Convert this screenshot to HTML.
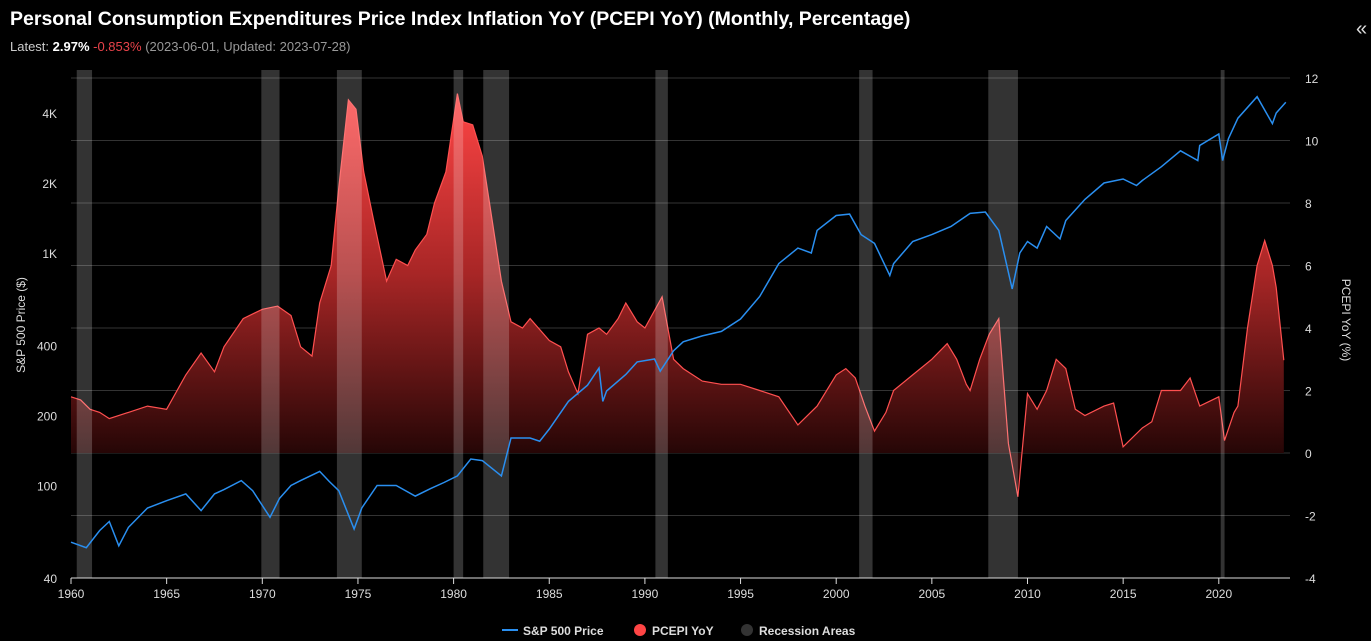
<!DOCTYPE html>
<html><head><meta charset="utf-8"><style>
body{margin:0;background:#000;width:1371px;height:641px;overflow:hidden;font-family:"Liberation Sans",sans-serif;color:#fff}
#title{position:absolute;left:10px;top:8px;font-size:19.5px;font-weight:bold}
#sub{position:absolute;left:10px;top:39px;font-size:13px;color:#ccc}
#collapse{position:absolute;left:1356px;top:18px;font-size:20px;color:#ddd}
svg{position:absolute;left:0;top:0}
</style></head><body>
<div id="title">Personal Consumption Expenditures Price Index Inflation YoY (PCEPI YoY) (Monthly, Percentage)</div>
<div id="sub">Latest: <b style="color:#fff">2.97%</b> <span style="color:#e8434a">-0.853%</span> <span style="color:#999">(2023-06-01, Updated: 2023-07-28)</span></div>
<div id="collapse">«</div>
<svg id="chart" width="1371" height="641"></svg>
<script>
const pceYears=[1960,1960.5,1961,1961.5,1962,1963,1964,1965,1966,1966.8,1967.5,1968,1969,1970,1970.8,1971.5,1972,1972.6,1973,1973.6,1974,1974.5,1974.9,1975.3,1975.8,1976.5,1977,1977.6,1978,1978.6,1979,1979.6,1980.2,1980.5,1981,1981.5,1982,1982.5,1983,1983.6,1984,1985,1985.6,1986,1986.5,1987,1987.6,1988,1988.6,1989,1989.6,1990,1990.9,1991.5,1992,1993,1994,1995,1996,1997,1998,1999,2000,2000.5,2001,2001.5,2002,2002.6,2003,2004,2005,2005.8,2006.3,2006.8,2007,2007.5,2008,2008.5,2009,2009.5,2010,2010.5,2011,2011.5,2012,2012.5,2013,2014,2014.5,2015,2016,2016.5,2017,2018,2018.5,2019,2020,2020.3,2020.8,2021,2021.5,2022,2022.4,2022.8,2023,2023.4];
const pceValues=[1.8,1.7,1.4,1.3,1.1,1.3,1.5,1.4,2.5,3.2,2.6,3.4,4.3,4.6,4.7,4.4,3.4,3.1,4.8,6.0,8.5,11.3,11.0,9.0,7.5,5.5,6.2,6.0,6.5,7.0,8.0,9.0,11.5,10.6,10.5,9.5,7.5,5.5,4.2,4.0,4.3,3.6,3.4,2.6,1.9,3.8,4.0,3.8,4.3,4.8,4.2,4.0,5.0,3.0,2.7,2.3,2.2,2.2,2.0,1.8,0.9,1.5,2.5,2.7,2.4,1.5,0.7,1.3,2.0,2.5,3.0,3.5,3.0,2.2,2.0,3.0,3.8,4.3,0.3,-1.4,1.9,1.4,2.0,3.0,2.7,1.4,1.2,1.5,1.6,0.2,0.8,1.0,2.0,2.0,2.4,1.5,1.8,0.4,1.3,1.5,4.0,6.0,6.8,6.0,5.3,2.97];
const spxYears=[1960,1960.8,1961.5,1962,1962.5,1963,1964,1965,1966,1966.8,1967.5,1968,1968.9,1969.5,1970.4,1970.9,1971.5,1972,1973,1973.5,1974,1974.8,1975.2,1976,1977,1978,1978.8,1979.5,1980.2,1980.9,1981.5,1982.5,1983,1984,1984.5,1985,1986,1987,1987.6,1987.8,1988,1989,1989.6,1990.5,1990.8,1991.5,1992,1993,1994,1995,1996,1997,1998,1998.7,1999,2000,2000.7,2001.3,2002,2002.8,2003,2004,2005,2006,2007,2007.8,2008.5,2009.2,2009.6,2010,2010.5,2011,2011.7,2012,2013,2014,2015,2015.7,2016,2017,2018,2018.9,2019,2020,2020.2,2020.5,2021,2022,2022.8,2023,2023.5];
const spxValues=[57,54,64,70,55,66,80,86,92,78,92,96,105,95,73,88,100,105,115,104,95,65,80,100,100,90,97,103,110,130,128,110,160,160,155,175,230,270,320,230,255,300,340,350,310,380,415,440,460,520,650,900,1050,1000,1250,1450,1470,1200,1100,800,900,1120,1200,1300,1480,1500,1250,700,1000,1120,1050,1300,1150,1380,1700,2000,2080,1950,2050,2350,2750,2500,2900,3250,2500,3100,3800,4700,3600,4000,4450];
const recStart=[1960.3,1969.95,1973.9,1980.0,1981.55,1990.55,2001.2,2007.95,2020.1];
const recEnd=[1961.1,1970.9,1975.2,1980.5,1982.9,1991.2,2001.9,2009.5,2020.3];
const xTicks=[1960,1965,1970,1975,1980,1985,1990,1995,2000,2005,2010,2015,2020];
const rTicks=[12,10,8,6,4,2,0,-2,-4];
const lTicks=[40,100,200,400,1000,2000,4000];
const lLabels=["40","100","200","400","1K","2K","4K"];

const NS="http://www.w3.org/2000/svg";
const svg=document.getElementById('chart');
const X=y=>71+(y-1960)*19.13;
const YR=v=>453-31.25*v;
const YL=v=>578-232.5*Math.log10(v/40);
function mk(t,a,p){const e=document.createElementNS(NS,t);for(const k in a)e.setAttribute(k,a[k]);(p||svg).appendChild(e);return e;}
const defs=mk('defs',{});
const g=mk('linearGradient',{id:'rg',x1:0,y1:YR(11.5),x2:0,y2:YR(0),gradientUnits:'userSpaceOnUse'},defs);
mk('stop',{offset:0,'stop-color':'#ff4545'},g);
mk('stop',{offset:0.5,'stop-color':'#a82626'},g);
mk('stop',{offset:1,'stop-color':'#260606'},g);

rTicks.forEach(t=>{
  const l=mk('line',{x1:71,x2:1290,y1:YR(t),y2:YR(t),stroke:'#333','stroke-width':1});
  
  
  const tx=mk('text',{x:1305,y:YR(t)+5,fill:'#ddd','font-size':12});
  tx.textContent=t;
  
  
});
lTicks.forEach((t,i)=>{
  const tx=mk('text',{x:57,y:YL(t)+5,fill:'#ddd','font-size':12,'text-anchor':'end'});
  tx.textContent=lLabels[i];
  
  
});
// PCE area
let d='M'+X(pceYears[0])+','+YR(0);
pceYears.forEach((y,i)=>{d+=' L'+X(y).toFixed(1)+','+YR(pceValues[i]).toFixed(1);});
d+=' L'+X(pceYears[pceYears.length-1])+','+YR(0)+' Z';
const area=mk('path',{d:d,fill:'url(#rg)'});


const pl=mk('polyline',{points:pceYears.map((y,i)=>X(y).toFixed(1)+','+YR(pceValues[i]).toFixed(1)).join(' '),fill:'none',stroke:'#ff5050','stroke-width':1.2});


// recession bands (overlay)
recStart.forEach((s,i)=>{
  const r=mk('rect',{x:X(s),y:70,width:Math.max(3,X(recEnd[i])-X(s)),height:508,fill:'rgba(255,255,255,0.2)'});
  
  
});
const sl=mk('polyline',{points:spxYears.map((y,i)=>X(y).toFixed(1)+','+YL(spxValues[i]).toFixed(1)).join(' '),fill:'none',stroke:'#2a8ff0','stroke-width':1.5});


const ax=mk('line',{x1:71,x2:1290,y1:578,y2:578,stroke:'#ddd','stroke-width':1});


xTicks.forEach(t=>{
  mk('line',{x1:X(t),x2:X(t),y1:578,y2:584,stroke:'#ddd'});
  const tx=mk('text',{x:X(t),y:598,fill:'#ddd','font-size':12,'text-anchor':'middle'});
  tx.textContent=t;
  
  
});
const lt=mk('text',{x:0,y:0,fill:'#ddd','font-size':12,'text-anchor':'middle',transform:'translate(25,325) rotate(-90)'});
lt.textContent='S&P 500 Price ($)';


const rt=mk('text',{x:0,y:0,fill:'#ddd','font-size':12,'text-anchor':'middle',transform:'translate(1342,320) rotate(90)'});
rt.textContent='PCEPI YoY (%)';


const lg=mk('g',{});


mk('line',{x1:502,x2:518,y1:630,y2:630,stroke:'#2a8ff0','stroke-width':2},lg);
const t1=mk('text',{x:523,y:635,fill:'#ddd','font-size':12,'font-weight':'bold'},lg);t1.textContent='S&P 500 Price';


mk('circle',{cx:640,cy:630,r:6,fill:'#ff4545'},lg);
const t2=mk('text',{x:652,y:635,fill:'#ddd','font-size':12,'font-weight':'bold'},lg);t2.textContent='PCEPI YoY';


mk('circle',{cx:747,cy:630,r:6,fill:'#333'},lg);
const t3=mk('text',{x:759,y:635,fill:'#ddd','font-size':12,'font-weight':'bold'},lg);t3.textContent='Recession Areas';


</script>
</body></html>
